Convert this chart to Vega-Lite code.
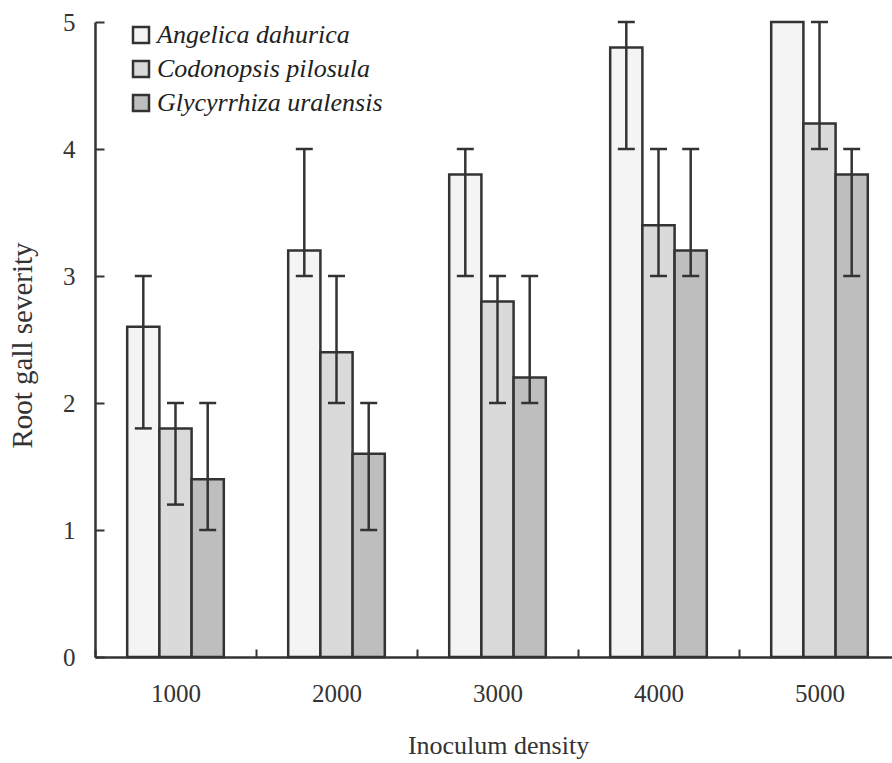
{
  "$schema": "https://vega.github.io/schema/vega-lite/v6.json",
  "width": 797,
  "height": 635,
  "autosize": {"type": "none"},
  "padding": {"left": 95, "top": 22, "right": 0, "bottom": 106},
  "background": "white",
  "config": {
    "font": "Liberation Serif",
    "view": {"stroke": null},
    "axis": {
      "grid": false,
      "domainColor": "#333",
      "domainWidth": 2.5,
      "tickColor": "#333",
      "tickWidth": 2,
      "labelFont": "Liberation Serif",
      "labelFontSize": 25,
      "labelColor": "#333",
      "titleFont": "Liberation Serif",
      "titleFontSize": 26,
      "titleFontWeight": "normal",
      "titleColor": "#333"
    }
  },
  "data": {
    "values": [
      {"density": "1000", "species": "Angelica dahurica", "mean": 2.6, "lo": 1.8, "hi": 3.0},
      {"density": "1000", "species": "Codonopsis pilosula", "mean": 1.8, "lo": 1.2, "hi": 2.0},
      {"density": "1000", "species": "Glycyrrhiza uralensis", "mean": 1.4, "lo": 1.0, "hi": 2.0},
      {"density": "2000", "species": "Angelica dahurica", "mean": 3.2, "lo": 3.0, "hi": 4.0},
      {"density": "2000", "species": "Codonopsis pilosula", "mean": 2.4, "lo": 2.0, "hi": 3.0},
      {"density": "2000", "species": "Glycyrrhiza uralensis", "mean": 1.6, "lo": 1.0, "hi": 2.0},
      {"density": "3000", "species": "Angelica dahurica", "mean": 3.8, "lo": 3.0, "hi": 4.0},
      {"density": "3000", "species": "Codonopsis pilosula", "mean": 2.8, "lo": 2.0, "hi": 3.0},
      {"density": "3000", "species": "Glycyrrhiza uralensis", "mean": 2.2, "lo": 2.0, "hi": 3.0},
      {"density": "4000", "species": "Angelica dahurica", "mean": 4.8, "lo": 4.0, "hi": 5.0},
      {"density": "4000", "species": "Codonopsis pilosula", "mean": 3.4, "lo": 3.0, "hi": 4.0},
      {"density": "4000", "species": "Glycyrrhiza uralensis", "mean": 3.2, "lo": 3.0, "hi": 4.0},
      {"density": "5000", "species": "Angelica dahurica", "mean": 5.0, "lo": null, "hi": null},
      {"density": "5000", "species": "Codonopsis pilosula", "mean": 4.2, "lo": 4.0, "hi": 5.0},
      {"density": "5000", "species": "Glycyrrhiza uralensis", "mean": 3.8, "lo": 3.0, "hi": 4.0}
    ]
  },
  "encoding": {
    "x": {
      "field": "density",
      "type": "nominal",
      "scale": {"paddingInner": 0, "paddingOuter": 0, "range": [0, 805]},
      "axis": {
        "title": "Inoculum density",
        "labelAngle": 0,
        "tickBand": "extent",
        "tickSize": -8,
        "labelPadding": 32,
        "titleX": 403,
        "titleY": 88,
        "titleAlign": "center",
        "titleBaseline": "middle"
      }
    },
    "xOffset": {
      "field": "species",
      "type": "nominal",
      "scale": {
        "domain": ["Angelica dahurica", "Codonopsis pilosula", "Glycyrrhiza uralensis"],
        "paddingInner": 0,
        "paddingOuter": 1.21
      }
    }
  },
  "layer": [
    {
      "mark": {"type": "bar", "stroke": "#333", "strokeWidth": 2.5},
      "encoding": {
        "y": {
          "field": "mean",
          "type": "quantitative",
          "scale": {"domain": [0, 5]},
          "axis": {
            "title": "Root gall severity",
            "values": [0, 1, 2, 3, 4, 5],
            "format": "d",
            "tickSize": -9,
            "labelPadding": 29,
            "titleFontSize": 29,
            "titleX": -73,
            "titleY": 323,
            "titleAngle": -90,
            "titleAlign": "center",
            "titleBaseline": "middle"
          }
        },
        "fill": {
          "field": "species",
          "type": "nominal",
          "scale": {
            "domain": ["Angelica dahurica", "Codonopsis pilosula", "Glycyrrhiza uralensis"],
            "range": ["#f4f4f4", "#dadada", "#bebebe"]
          },
          "legend": {
            "title": null,
            "orient": "none",
            "legendX": 33,
            "legendY": 0,
            "symbolType": "square",
            "symbolSize": 256,
            "symbolStrokeColor": "#333",
            "symbolStrokeWidth": 2.5,
            "symbolOpacity": 1,
            "labelFont": "Liberation Serif",
            "labelFontStyle": "italic",
            "labelFontSize": 26,
            "labelColor": "#222",
            "labelOffset": 3,
            "labelLimit": 400,
            "rowPadding": 8
          }
        }
      }
    },
    {
      "mark": {"type": "rule", "color": "#333", "strokeWidth": 2.5},
      "encoding": {
        "y": {"field": "lo", "type": "quantitative"},
        "y2": {"field": "hi"}
      }
    },
    {
      "mark": {"type": "tick", "color": "#333", "thickness": 2.5, "size": 17, "opacity": 1},
      "encoding": {"y": {"field": "lo", "type": "quantitative"}}
    },
    {
      "mark": {"type": "tick", "color": "#333", "thickness": 2.5, "size": 17, "opacity": 1},
      "encoding": {"y": {"field": "hi", "type": "quantitative"}}
    }
  ]
}
